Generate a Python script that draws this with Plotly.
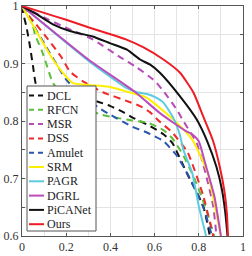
import plotly.graph_objects as go

names = ["DCL", "RFCN", "MSR", "DSS", "Amulet", "SRM", "PAGR", "DGRL", "PiCANet", "Ours"]

dcl_x = [0, 0.005, 0.02, 0.036, 0.05, 0.066, 0.1, 0.2, 0.34, 0.40, 0.46, 0.50, 0.58, 0.64, 0.68, 0.745, 0.82, 0.85]
dcl_y = [1, 0.988, 0.964, 0.93, 0.895, 0.86, 0.852, 0.843, 0.834, 0.826, 0.815, 0.806, 0.791, 0.777, 0.762, 0.71, 0.652, 0.6]

rfcn_x = [0, 0.02, 0.045, 0.059, 0.09, 0.118, 0.14, 0.2, 0.35, 0.42, 0.5, 0.57, 0.64, 0.68, 0.73, 0.78, 0.83, 0.87]
rfcn_y = [1, 0.99, 0.973, 0.95, 0.922, 0.89, 0.866, 0.84, 0.812, 0.806, 0.801, 0.797, 0.784, 0.77, 0.74, 0.70, 0.65, 0.6]

msr_x = [0, 0.1, 0.2, 0.32, 0.44, 0.52, 0.6, 0.64, 0.7, 0.73, 0.79, 0.83, 0.865, 0.88]
msr_y = [1, 0.98, 0.962, 0.942, 0.912, 0.893, 0.87, 0.852, 0.82, 0.80, 0.762, 0.71, 0.652, 0.6]

dss_x = [0, 0.014, 0.06, 0.118, 0.18, 0.217, 0.276, 0.366, 0.48, 0.534, 0.58, 0.62, 0.68, 0.75, 0.82, 0.865]
dss_y = [1, 0.99, 0.97, 0.942, 0.91, 0.886, 0.869, 0.85, 0.834, 0.826, 0.815, 0.80, 0.78, 0.745, 0.67, 0.6]

amulet_x = [0, 0.1, 0.2, 0.23, 0.28, 0.34, 0.39, 0.5, 0.565, 0.64, 0.7, 0.76, 0.82, 0.86]
amulet_y = [1, 0.935, 0.872, 0.86, 0.845, 0.825, 0.813, 0.79, 0.78, 0.765, 0.74, 0.70, 0.65, 0.6]

srm_x = [0, 0.14, 0.2, 0.23, 0.39, 0.466, 0.556, 0.595, 0.70, 0.77, 0.84, 0.873, 0.90]
srm_y = [1, 0.907, 0.877, 0.866, 0.86, 0.852, 0.842, 0.832, 0.797, 0.768, 0.71, 0.652, 0.6]

pagr_x = [0, 0.3, 0.47, 0.52, 0.565, 0.6, 0.64, 0.685, 0.715, 0.73, 0.77, 0.80, 0.833]
pagr_y = [1, 0.905, 0.858, 0.85, 0.847, 0.842, 0.832, 0.805, 0.775, 0.75, 0.71, 0.652, 0.6]

dgrl_x = [0, 0.3, 0.51, 0.62, 0.685, 0.74, 0.77, 0.80, 0.83, 0.87, 0.9]
dgrl_y = [1, 0.907, 0.851, 0.815, 0.797, 0.783, 0.777, 0.765, 0.725, 0.67, 0.6]

picanet_x = [0, 0.07, 0.14, 0.22, 0.32, 0.40, 0.475, 0.534, 0.58, 0.624, 0.715, 0.79, 0.84, 0.88, 0.905, 0.92, 0.93]
picanet_y = [1, 0.985, 0.968, 0.956, 0.947, 0.935, 0.924, 0.907, 0.898, 0.884, 0.843, 0.803, 0.763, 0.72, 0.68, 0.64, 0.6]

ours_x = [0, 0.1, 0.2, 0.3, 0.4, 0.47, 0.55, 0.64, 0.715, 0.775, 0.82, 0.864, 0.895, 0.915, 0.927, 0.932]
ours_y = [1, 0.988, 0.976, 0.963, 0.951, 0.942, 0.928, 0.907, 0.884, 0.85, 0.808, 0.766, 0.72, 0.68, 0.64, 0.6]

xs = [dcl_x, rfcn_x, msr_x, dss_x, amulet_x, srm_x, pagr_x, dgrl_x, picanet_x, ours_x]
ys = [dcl_y, rfcn_y, msr_y, dss_y, amulet_y, srm_y, pagr_y, dgrl_y, picanet_y, ours_y]
colors = ["#111111", "#5cbf3c", "#b64cb6", "#ee2a2a", "#2a55b0", "#ffee00", "#5ccbe0", "#bb4cbb", "#111111", "#ee1c24"]
dashes = ["7px,5px"] * 5 + ["solid"] * 5
legend_dashes = ["5px,4px"] * 5 + ["solid"] * 5

x_ticks = [0, 0.2, 0.4, 0.6, 0.8, 1]
x_ticklabels = ["0", "0.2", "0.4", "0.6", "0.8", "1"]
y_ticks = [0.6, 0.7, 0.8, 0.9, 1]
y_ticklabels = ["0.6", "0.7", "0.8", "0.9", "1"]

W, H = 252, 256
ML, MR, MT, MB = 22, 9, 6, 20
PW, PH = W - ML - MR, H - MT - MB

def px(xp):
    return (xp - ML) / PW

def py(yp):
    return (H - MB - yp) / PH

fig = go.Figure()
for n, x, y, c, d in zip(names, xs, ys, colors, dashes):
    fig.add_trace(go.Scatter(x=x, y=y, mode="lines", name=n, showlegend=False,
                             line=dict(color=c, width=2, dash=d, shape="spline", smoothing=0.5)))

# custom legend (MATLAB-style compact box)
shapes = [dict(type="rect", xref="paper", yref="paper", layer="above",
               x0=px(27), x1=px(96), y0=py(231), y1=py(86),
               fillcolor="white", line=dict(color="#555555", width=1))]
annotations = []
for i, (n, c, d) in enumerate(zip(names, colors, legend_dashes)):
    yc = 95.5 + 14.3 * i
    shapes.append(dict(type="line", xref="paper", yref="paper", layer="above",
                       x0=px(29), x1=px(44), y0=py(yc), y1=py(yc),
                       line=dict(color=c, width=2, dash=d)))
    annotations.append(dict(text=n, xref="paper", yref="paper", x=px(44.5), y=py(yc),
                            xanchor="left", yanchor="middle", showarrow=False,
                            font=dict(family="Liberation Serif", size=12, color="#222222")))

font = dict(family="Liberation Serif", size=12, color="#222222")
tickfont = dict(family="Liberation Serif", size=12, color="#333333")
fig.update_layout(
    width=W, height=H,
    margin=dict(l=ML, r=MR, t=MT, b=MB),
    paper_bgcolor="white", plot_bgcolor="white",
    font=font, showlegend=False,
    shapes=shapes, annotations=annotations,
)
fig.update_xaxes(range=[0, 1], tickvals=x_ticks, ticktext=x_ticklabels, tickfont=tickfont,
                 ticklabeloverflow="allow",
                 showgrid=True, gridcolor="#e4e4e4", gridwidth=1,
                 minor=dict(dtick=0.1, showgrid=True, gridcolor="#e4e4e4"),
                 showline=True, linecolor="#555555", linewidth=1, mirror="ticks",
                 ticks="inside", ticklen=3, tickcolor="#555555", zeroline=False,
                 automargin=False)
fig.update_yaxes(range=[0.6, 1], tickvals=y_ticks, ticktext=y_ticklabels, tickfont=tickfont,
                 ticklabeloverflow="allow",
                 showgrid=True, gridcolor="#e4e4e4", gridwidth=1,
                 minor=dict(dtick=0.05, showgrid=True, gridcolor="#e4e4e4", ticks="inside", ticklen=3, tickcolor="#555555"),
                 showline=True, linecolor="#555555", linewidth=1, mirror="ticks",
                 ticks="inside", ticklen=3, tickcolor="#555555", zeroline=False,
                 automargin=False)
fig.write_html("out.html", config={"displayModeBar": False},
               post_script="document.body.style.margin='0px';document.body.style.overflow='hidden';")
